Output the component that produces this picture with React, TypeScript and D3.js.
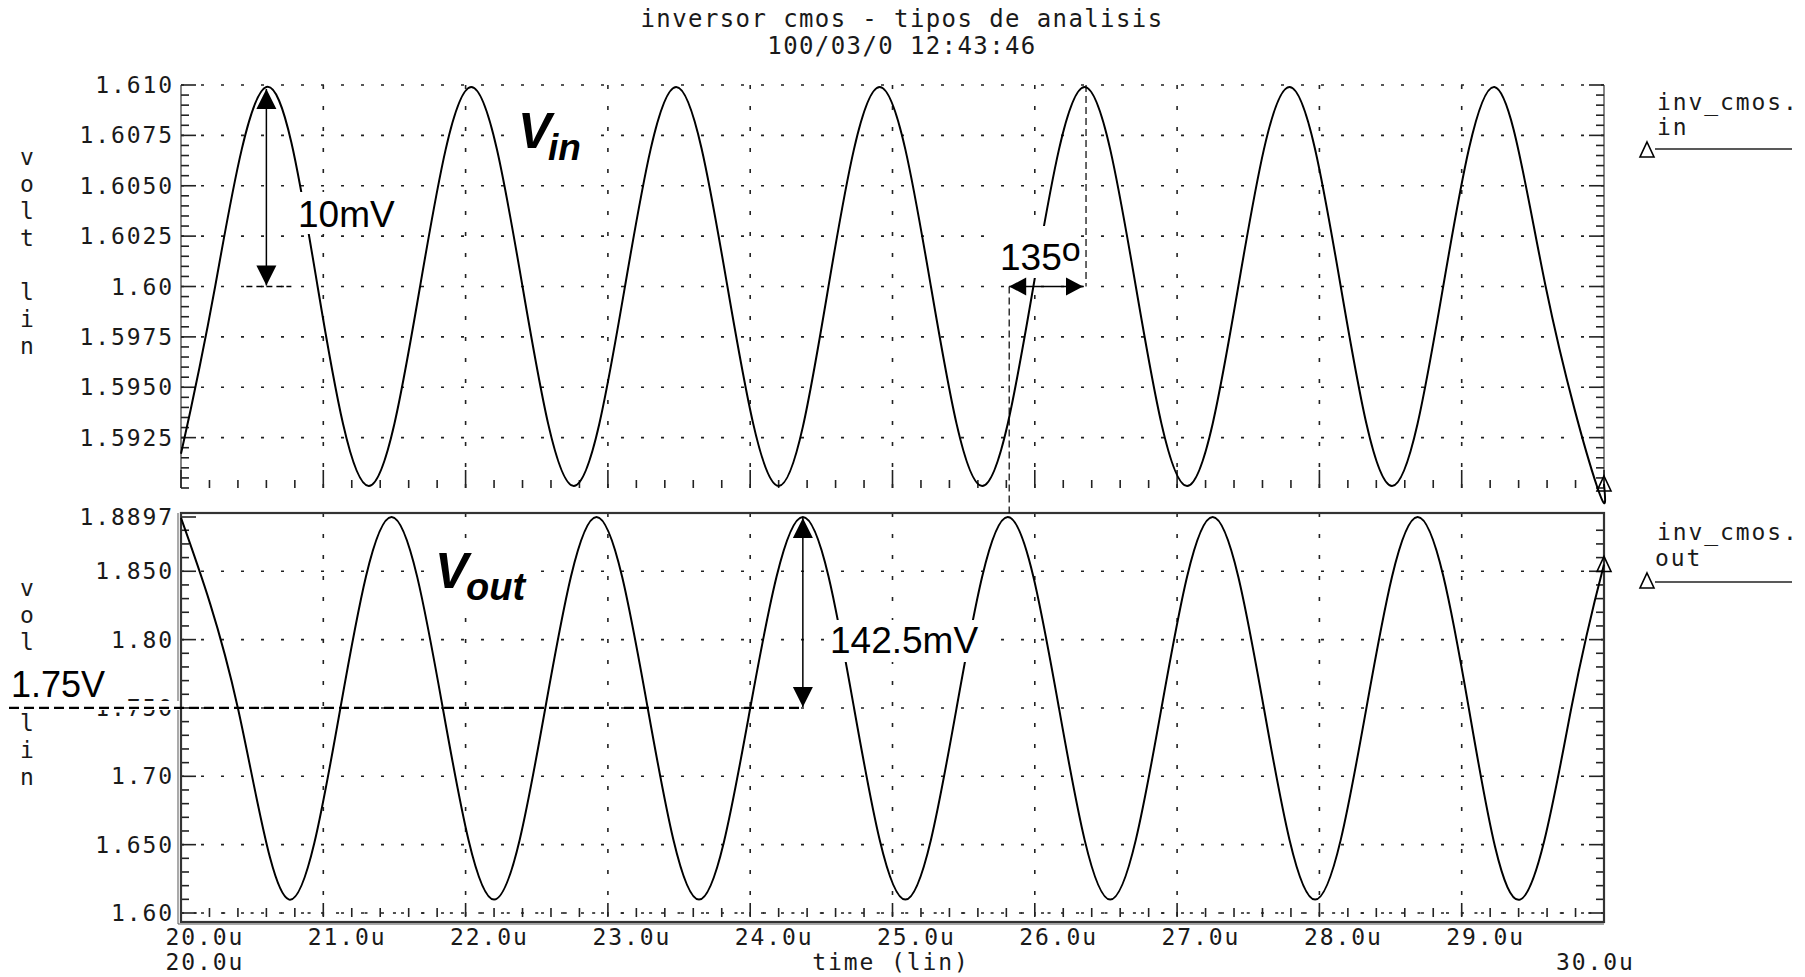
import * as d3 from "d3";

// ---- chart data ----
const TITLE_LINES = ["inversor cmos - tipos de analisis", "100/03/0 12:43:46"];

const X_TICKS = [20, 21, 22, 23, 24, 25, 26, 27, 28, 29];
const X_TICK_LABELS = ["20.0u", "21.0u", "22.0u", "23.0u", "24.0u", "25.0u", "26.0u", "27.0u", "28.0u", "29.0u"];

const VIN_TICKS = [1.61, 1.6075, 1.605, 1.6025, 1.6, 1.5975, 1.595, 1.5925];
const VIN_TICK_LABELS = ["1.610", "1.6075", "1.6050", "1.6025", "1.60", "1.5975", "1.5950", "1.5925"];

const VOUT_TICKS = [1.8897, 1.85, 1.8, 1.75, 1.7, 1.65, 1.6];
const VOUT_TICK_LABELS = ["1.8897", "1.850", "1.80", "1.750", "1.70", "1.650", "1.60"];

// time in us, volts
const VIN_TIME = [
  20.0, 20.24, 20.6, 20.96, 21.32, 21.68, 22.04, 22.4, 22.76, 23.12, 23.48, 23.84, 24.2, 24.55, 24.91,
  25.27, 25.63, 25.99, 26.35, 26.71, 27.07, 27.43, 27.79, 28.15, 28.51, 28.87, 29.23, 29.59, 29.95, 30.0,
];
const VIN_VALUE = [
  1.5917, 1.6, 1.6099, 1.6, 1.5901, 1.6, 1.6099, 1.6, 1.5901, 1.6, 1.6099, 1.6, 1.5901, 1.6, 1.6099,
  1.6, 1.5901, 1.6, 1.6099, 1.6, 1.5901, 1.6, 1.6099, 1.6, 1.5901, 1.6, 1.6099, 1.6, 1.5901, 1.5902,
];

const VOUT_TIME = [
  20.0, 20.4, 20.76, 21.12, 21.48, 21.84, 22.2, 22.56, 22.92, 23.28, 23.64, 24.0, 24.37, 24.73, 25.09,
  25.45, 25.81, 26.17, 26.53, 26.89, 27.25, 27.61, 27.97, 28.33, 28.69, 29.05, 29.41, 29.77, 30.0,
];
const VOUT_VALUE = [
  1.889, 1.7498, 1.6098, 1.7498, 1.8897, 1.7498, 1.6098, 1.7498, 1.8897, 1.7498, 1.6098, 1.7498, 1.8897,
  1.7498, 1.6098, 1.7498, 1.8897, 1.7498, 1.6098, 1.7498, 1.8897, 1.7498, 1.6098, 1.7498, 1.8897,
  1.7498, 1.6098, 1.7498, 1.855,
];

// annotation anchors
const VIN_PEAK_T = 20.6;
const VOUT_PEAK_T = 24.37;
const PHASE_FROM_T = 25.82;
const PHASE_TO_T = 26.36;

const W = 1805;
const H = 977;
const X0 = 181;
const X1 = 1604;
const MONO = "'DejaVu Sans Mono', monospace";
const SANS = "'Liberation Sans', Arial, sans-serif";
const INK = "#1a1a1a";

function Arrow({ x1, y1, x2, y2, head = 20, half = 10, width = 1.5 }: any) {
  const a = Math.atan2(y2 - y1, x2 - x1);
  const tri = (tx: number, ty: number, dir: number) => {
    const bx = tx - Math.cos(dir) * head;
    const by = ty - Math.sin(dir) * head;
    const px = -Math.sin(dir) * half;
    const py = Math.cos(dir) * half;
    return `M${tx},${ty}L${bx + px},${by + py}L${bx - px},${by - py}Z`;
  };
  return (
    <g>
      <line x1={x1} y1={y1} x2={x2} y2={y2} stroke="#000" strokeWidth={width} />
      <path d={tri(x2, y2, a)} fill="#000" />
      <path d={tri(x1, y1, a + Math.PI)} fill="#000" />
    </g>
  );
}

function App() {
  const x = d3.scaleLinear().domain([20, 30]).range([X0, X1]);
  const yIn = d3.scaleLinear().domain([1.59, 1.61]).range([488, 85]);
  const yOut = d3.scaleLinear().domain([1.6, 1.8897]).range([913, 517]);

  const vinPath = d3
    .line<number>()
    .x((_, i) => x(VIN_TIME[i]))
    .y((d) => yIn(d))
    .curve(d3.curveNatural)(VIN_VALUE);
  const voutPath = d3
    .line<number>()
    .x((_, i) => x(VOUT_TIME[i]))
    .y((d) => yOut(d))
    .curve(d3.curveNatural)(VOUT_VALUE);

  const monoText = { fontFamily: MONO, fontSize: 23, letterSpacing: 1.9, fill: INK };
  const gridStyle = { stroke: "#222", strokeWidth: 1.6 };

  // minor ticks
  const inMinor = d3.range(0, 41).map((i) => 1.59 + i * 0.0005);
  const outMinor = d3.range(0, 29).map((i) => 1.6 + i * 0.01);
  const xMinor = d3.range(0, 51).map((i) => 20 + i * 0.2);
  const xDots = d3.range(0, 50).map((i) => 20.1 + i * 0.2);

  // vertical axis title; letters hidden under annotations are skipped
  const vertical = (word: string, y0: number, skip: number[] = []) =>
    word.split("").map((c, i) =>
      skip.includes(i) || c === " " ? null : (
        <text key={i} x={27} y={y0 + i * 27} textAnchor="middle" {...monoText} letterSpacing={0}>
          {c}
        </text>
      )
    );

  const tEnd = (arr: number[]) => arr[arr.length - 1];

  const triangle = (cx: number, cy: number) => (
    <path
      d={`M${cx},${cy - 8}L${cx + 7},${cy + 7}L${cx - 7},${cy + 7}Z`}
      fill="none"
      stroke="#000"
      strokeWidth={1.6}
    />
  );

  return (
    <svg width={W} height={H} style={{ position: "absolute", left: 0, top: 0, background: "#fff" }}>
      <rect width={W} height={H} fill="#fff" />

      {/* title */}
      {TITLE_LINES.map((t, i) => (
        <text key={i} x={902} y={27 + i * 27} textAnchor="middle" {...monoText} fontSize={24} letterSpacing={1.4}>
          {t}
        </text>
      ))}

      {/* ---------- top plot (Vin) ---------- */}
      <g>
        {VIN_TICKS.map((v, i) => (
          <line key={i} x1={X0} x2={X1} y1={yIn(v)} y2={yIn(v)} {...gridStyle} strokeDasharray="3 17" />
        ))}
        {X_TICKS.slice(1).map((t) => (
          <line key={t} x1={x(t)} x2={x(t)} y1={85} y2={488} {...gridStyle} strokeDasharray="4 17" />
        ))}
        <line x1={X0} x2={X0} y1={85} y2={488} stroke="#333" strokeWidth={1.2} />
        <line x1={X1} x2={X1} y1={85} y2={488} stroke="#333" strokeWidth={1.2} />
        {inMinor.map((v, i) => {
          const major = VIN_TICKS.some((m) => Math.abs(m - v) < 1e-6);
          const len = major ? 15 : 8;
          return (
            <g key={i}>
              <line x1={X0} x2={X0 + len} y1={yIn(v)} y2={yIn(v)} stroke="#222" strokeWidth={1.6} />
              <line x1={X1} x2={X1 - len} y1={yIn(v)} y2={yIn(v)} stroke="#222" strokeWidth={1.6} />
            </g>
          );
        })}
        {xMinor.map((t, i) => {
          const major = Math.abs(t - Math.round(t)) < 1e-6;
          return (
            <line key={i} x1={x(t)} x2={x(t)} y1={major ? 470 : 480} y2={488} stroke="#222" strokeWidth={1.6} />
          );
        })}
        {VIN_TICKS.map((v, i) => (
          <text key={i} x={174} y={yIn(v) + 8} textAnchor="end" {...monoText}>
            {VIN_TICK_LABELS[i]}
          </text>
        ))}
        {vertical("volt lin", 165)}
        <path d={vinPath ?? ""} fill="none" stroke="#000" strokeWidth={2} />
        {triangle(x(tEnd(VIN_TIME)), yIn(tEnd(VIN_VALUE)))}
      </g>

      {/* ---------- bottom plot (Vout) ---------- */}
      <g>
        {VOUT_TICKS.slice(1).map((v, i) => (
          <line key={i} x1={X0} x2={X1} y1={yOut(v)} y2={yOut(v)} {...gridStyle} strokeDasharray="3 17" />
        ))}
        {X_TICKS.slice(1).map((t) => (
          <line key={t} x1={x(t)} x2={x(t)} y1={513} y2={922} {...gridStyle} strokeDasharray="4 17" />
        ))}
        {outMinor.map((v, i) => {
          const major = VOUT_TICKS.some((m) => Math.abs(m - v) < 1e-6);
          const len = major ? 15 : 8;
          return (
            <g key={i}>
              <line x1={X0} x2={X0 + len} y1={yOut(v)} y2={yOut(v)} stroke="#222" strokeWidth={1.6} />
              <line x1={X1} x2={X1 - len} y1={yOut(v)} y2={yOut(v)} stroke="#222" strokeWidth={1.6} />
            </g>
          );
        })}
        <line x1={X0} x2={X0 + 15} y1={yOut(1.8897)} y2={yOut(1.8897)} stroke="#222" strokeWidth={1.6} />
        {xMinor.map((t, i) => {
          const major = Math.abs(t - Math.round(t)) < 1e-6;
          return (
            <line key={i} x1={x(t)} x2={x(t)} y1={major ? 903 : 908} y2={917} stroke="#222" strokeWidth={1.6} />
          );
        })}
        {xDots.map((t, i) => (
          <line key={i} x1={x(t) - 1.5} x2={x(t) + 1.5} y1={913} y2={913} stroke="#222" strokeWidth={1.6} />
        ))}
        <rect x={X0} y={513} width={X1 - X0} height={922 - 513} fill="none" stroke="#333" strokeWidth={2.2} />
        <line x1={X0 - 3} x2={X0 - 3} y1={513} y2={924} stroke="#555" strokeWidth={1} />
        <line x1={X0 - 3} x2={X1} y1={924} y2={924} stroke="#555" strokeWidth={1.2} />
        {VOUT_TICKS.map((v, i) => (
          <text key={i} x={174} y={yOut(v) + 8} textAnchor="end" {...monoText}>
            {VOUT_TICK_LABELS[i]}
          </text>
        ))}
        {vertical("volt lin", 596, [3])}
        <path d={voutPath ?? ""} fill="none" stroke="#000" strokeWidth={2} />
        {triangle(x(tEnd(VOUT_TIME)), yOut(tEnd(VOUT_VALUE)))}
      </g>

      {/* x axis labels */}
      {X_TICKS.map((t, i) => (
        <text key={t} x={x(t) - 15.5} y={945} {...monoText}>
          {X_TICK_LABELS[i]}
        </text>
      ))}
      <text x={x(20) - 15.5} y={970} {...monoText}>
        20.0u
      </text>
      <text x={x(30) - 48} y={970} {...monoText}>
        30.0u
      </text>
      <text x={891} y={970} textAnchor="middle" {...monoText}>
        time (lin)
      </text>

      {/* legends */}
      <text x={1657} y={110} {...monoText}>inv_cmos.</text>
      <text x={1657} y={135} {...monoText}>in</text>
      {triangle(1647, 150)}
      <line x1={1655} x2={1792} y1={149} y2={149} stroke="#222" strokeWidth={1.6} />
      <text x={1657} y={540} {...monoText}>inv_cmos.</text>
      <text x={1655} y={566} {...monoText}>out</text>
      {triangle(1647, 581)}
      <line x1={1655} x2={1792} y1={582} y2={582} stroke="#222" strokeWidth={1.6} />

      {/* ---------- annotations ---------- */}
      {/* Vin label */}
      <rect x={515} y={108} width={72} height={56} fill="#fff" />
      <text x={518} y={148} fontFamily={SANS} fontWeight="bold" fontStyle="italic" fontSize={50} fill="#000">
        V
      </text>
      <text x={548} y={160} fontFamily={SANS} fontWeight="bold" fontStyle="italic" fontSize={37} fill="#000">
        in
      </text>

      {/* 10mV */}
      <Arrow x1={x(VIN_PEAK_T)} y1={yIn(1.61) + 4} x2={x(VIN_PEAK_T)} y2={yIn(1.6) - 1} head={20} half={10} />
      <line
        x1={x(VIN_PEAK_T) - 20}
        x2={x(VIN_PEAK_T) + 25}
        y1={yIn(1.6)}
        y2={yIn(1.6)}
        stroke="#000"
        strokeWidth={1.3}
        strokeDasharray="6 4"
      />
      <rect x={296} y={192} width={102} height={42} fill="#fff" />
      <text x={298} y={227} fontFamily={SANS} fontSize={37} fill="#000">
        10mV
      </text>

      {/* phase 135 */}
      <line
        x1={x(PHASE_TO_T)}
        x2={x(PHASE_TO_T)}
        y1={yIn(1.61)}
        y2={yIn(1.6)}
        stroke="#000"
        strokeWidth={1.2}
        strokeDasharray="7 4"
      />
      <line
        x1={x(PHASE_FROM_T)}
        x2={x(PHASE_FROM_T)}
        y1={yIn(1.6)}
        y2={513}
        stroke="#000"
        strokeWidth={1.2}
        strokeDasharray="7 4"
      />
      <rect x={998} y={226} width={82} height={52} fill="#fff" />
      <text x={1000} y={270} fontFamily={SANS} fontSize={37} fill="#000">
        135
        <tspan dy={-9} fontSize={34}>o</tspan>
      </text>
      <Arrow x1={x(PHASE_FROM_T)} y1={yIn(1.6)} x2={x(PHASE_TO_T) - 3} y2={yIn(1.6)} head={17} half={9} />

      {/* Vout label */}
      <rect x={432} y={548} width={98} height={62} fill="#fff" />
      <text x={435} y={588} fontFamily={SANS} fontWeight="bold" fontStyle="italic" fontSize={50} fill="#000">
        V
      </text>
      <text x={466} y={600} fontFamily={SANS} fontWeight="bold" fontStyle="italic" fontSize={38} fill="#000">
        out
      </text>

      {/* 1.75V reference */}
      <rect x={8} y={660} width={104} height={41} fill="#fff" />
      <text x={11} y={697} fontFamily={SANS} fontSize={36} fill="#000">
        1.75V
      </text>
      <rect x={0} y={701} width={X0 - 2} height={9} fill="#fff" />
      <line
        x1={9}
        x2={x(VOUT_PEAK_T)}
        y1={yOut(1.75)}
        y2={yOut(1.75)}
        stroke="#000"
        strokeWidth={2.2}
        strokeDasharray="10 5"
      />

      {/* 142.5mV */}
      <Arrow x1={x(VOUT_PEAK_T)} y1={yOut(1.8897) + 1} x2={x(VOUT_PEAK_T)} y2={yOut(1.75) - 1} head={20} half={10} />
      <rect x={828} y={620} width={158} height={42} fill="#fff" />
      <text x={830} y={653} fontFamily={SANS} fontSize={37} fill="#000">
        142.5mV
      </text>
    </svg>
  );
}

export default App;
